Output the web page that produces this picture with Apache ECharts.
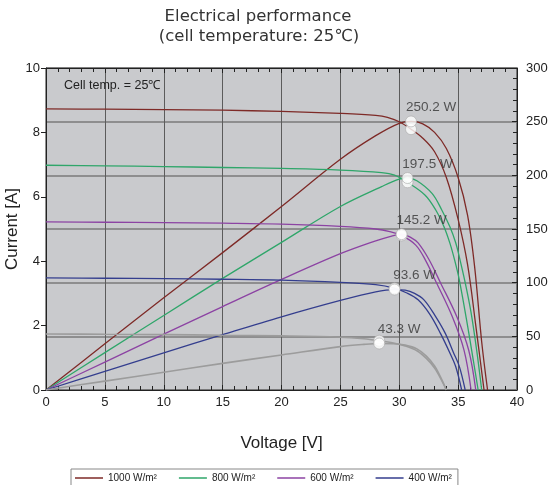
<!DOCTYPE html>
<html><head><meta charset="utf-8">
<script src="https://cdn.jsdelivr.net/npm/echarts@6/dist/echarts.min.js"></script>
<style>html,body{margin:0;padding:0;background:#fff}#c{width:553px;height:485px}</style>
</head><body><div id="c"></div><script>
const seriesNames = ['1000 W/m²', '800 W/m²', '600 W/m²', '400 W/m²', '200 W/m²'];
const legendNames = ['1000 W/m²', '800 W/m²', '600 W/m²', '400 W/m²'];
const colors = ['#7e2a27', '#2fa66a', '#8c43a3', '#343e8e', '#9c9c9c'];

// I-V curves [V, A]
const current1000 = [[0,8.73],[5,8.72],[10,8.71],[15,8.69],[20,8.65],[25,8.59],[28,8.53],[29,8.47],[30,8.33],[31,8.1],[32,7.82],[33,7.4],[34,6.6],[35,5.3],[35.8,3.9],[36.5,2.0],[37.2,0]];
const current800 = [[0,6.98],[5,6.96],[10,6.94],[15,6.91],[20,6.88],[25,6.83],[28.5,6.75],[29.6,6.67],[30.7,6.45],[32.2,6.05],[33.1,5.59],[33.8,5.07],[34.3,4.56],[34.7,4.04],[35.1,3.42],[35.8,2.0],[36.3,0.9],[36.7,0]];
const current600 = [[0,5.22],[5,5.21],[10,5.2],[15,5.18],[20,5.15],[25,5.08],[28,5.0],[29.2,4.92],[30.2,4.8],[31.4,4.5],[32.2,4.05],[33.2,3.3],[34.5,2.28],[35.5,1.24],[36.1,0]];
const current400 = [[0,3.48],[5,3.47],[10,3.46],[15,3.44],[20,3.41],[25,3.34],[28,3.27],[29.6,3.16],[30.6,3.02],[31.6,2.8],[32.6,2.35],[33.5,1.76],[34.3,1.15],[34.8,0.72],[35.3,0]];
const current200 = [[0,1.74],[5,1.73],[10,1.72],[15,1.7],[20,1.68],[25,1.64],[27,1.59],[28.3,1.53],[29.5,1.46],[30.5,1.37],[31.5,1.22],[32.3,0.98],[33,0.68],[33.6,0.3],[34,0]];

// P-V curves [V, W]
const power1000 = [[0,0],[5,43],[10,86],[15,128],[20,171],[25,215],[28,237],[30,248.5],[31,250.2],[32,248],[33,240],[34,225],[35,198],[35.8,163],[36.4,115],[37,45],[37.5,0]];
const power800 = [[0,0],[5,34.8],[10,69.4],[15,104],[20,137.5],[25,171],[28.5,189.5],[30,196.5],[30.7,197.5],[31.5,195],[32.8,183],[33.6,168],[34.3,152],[34.8,137],[35.1,124],[35.6,100],[36.1,72],[36.6,35],[37,0]];
const power600 = [[0,0],[5,26],[10,52],[15,77.7],[20,103],[25,127],[28,139],[29.2,143],[30.2,145.2],[31,142],[31.6,137],[32.5,122],[33.5,100],[34.9,68],[35.9,37],[36.5,0]];
const power400 = [[0,0],[5,17.4],[10,34.6],[15,51.6],[20,68.2],[25,83.5],[28,91.5],[29.6,93.6],[30.5,93],[31.3,90],[32.1,84],[33,70],[33.9,53],[34.6,35],[35.1,22],[35.6,0]];
const power200 = [[0,0],[5,8.3],[10,16.5],[15,24.8],[20,32.6],[25,40.4],[27,42.5],[28.3,43.3],[29.5,43.1],[30.5,41.8],[31.5,38.3],[32.3,31.6],[33,22.4],[33.6,10],[34,0]];

// Maximum power points
const mppVoltage = [31.0, 30.7, 30.2, 29.6, 28.3];
const mppPower = [250.2, 197.5, 145.2, 93.6, 43.3];
const mppCurrent = [8.1, 6.45, 4.8, 3.16, 1.53];
const mppLabels = ['250.2 W', '197.5 W', '145.2 W', '93.6 W', '43.3 W'];

const currents = [current1000, current800, current600, current400, current200];
const powers = [power1000, power800, power600, power400, power200];

const FONT = '"Liberation Sans", Arial, sans-serif';
const chart = echarts.init(document.getElementById('c'), null, {renderer: 'canvas'});

const series = [];
for (let k = 0; k < seriesNames.length; k++) {
  const common = {
    type: 'line', name: seriesNames[k], symbol: 'none', smooth: 0.35,
    lineStyle: {color: colors[k], width: k === 4 ? 1.6 : 1.3}, itemStyle: {color: colors[k]}, z: 3
  };
  series.push(Object.assign({}, common, {xAxisIndex: 0, yAxisIndex: 0, data: currents[k]}));
  series.push(Object.assign({}, common, {xAxisIndex: 0, yAxisIndex: 1, data: powers[k]}));
}
series.push({
  type: 'scatter', name: 'mppI', xAxisIndex: 0, yAxisIndex: 0, symbolSize: 11, z: 5,
  itemStyle: {color: '#fff', borderColor: '#aaa', borderWidth: 0.8},
  data: mppVoltage.map((v, i) => [v, mppCurrent[i]])
});
series.push({
  type: 'scatter', name: 'mppP', xAxisIndex: 0, yAxisIndex: 1, symbolSize: 11, z: 6,
  itemStyle: {color: '#fff', borderColor: '#aaa', borderWidth: 0.8},
  label: {show: true, position: 'top', distance: 1, offset: [20, 0], fontSize: 13.5, color: '#333', fontFamily: FONT,
    formatter: p => mppLabels[p.dataIndex]},
  data: mppVoltage.map((v, i) => [v, mppPower[i]])
});

const axisLineStyle = {color: '#222', width: 1};
chart.setOption({
  animation: false,
  backgroundColor: '#fff',
  textStyle: {fontFamily: FONT},
  grid: {left: 46, right: 36, top: 68, bottom: 95, containLabel: false, outerBoundsMode: 'none',
    show: true, backgroundColor: '#c9cacd', borderColor: '#222', borderWidth: 1},
  graphic: [
    {type: 'text', x: 258, y: 17, style: {text: 'Electrical performance', font: '16.5px "DejaVu Sans"', fill: '#333', textAlign: 'center', textVerticalAlign: 'middle'}},
    {type: 'text', x: 259, y: 37, style: {text: '(cell temperature: 25℃)', font: '16.5px "DejaVu Sans", "Noto Sans CJK JP"', fill: '#333', textAlign: 'center', textVerticalAlign: 'middle'}},
    {type: 'text', x: 64, y: 86, z: 10, style: {text: 'Cell temp. = 25℃', font: '12.5px ' + FONT, fill: '#222', textVerticalAlign: 'middle'}}
  ],
  legend: {
    data: legendNames, left: 71, top: 469, icon: 'rect', itemWidth: 28, itemHeight: 1.5, itemGap: 22,
    borderColor: '#888', borderWidth: 1, padding: [4, 6, 20, 4],
    textStyle: {fontSize: 10, color: '#222', fontFamily: FONT}
  },
  xAxis: [
    {type: 'value', min: 0, max: 40, interval: 5, position: 'bottom',
      axisLine: {show: true, onZero: false, lineStyle: axisLineStyle},
      axisTick: {show: true, inside: true, length: 5, lineStyle: axisLineStyle},
      minorTick: {show: true, splitNumber: 5, length: 4, lineStyle: axisLineStyle},
      axisLabel: {fontSize: 13, color: '#222', margin: 6, fontFamily: FONT},
      splitLine: {show: true, lineStyle: {color: '#5c5c5c', width: 1}},
      name: 'Voltage [V]', nameLocation: 'middle', nameGap: 45,
      nameTextStyle: {fontSize: 17, color: '#222', fontFamily: FONT}},
    {type: 'value', min: 0, max: 40, interval: 5, position: 'top',
      axisLine: {show: true, onZero: false, lineStyle: axisLineStyle},
      axisTick: {show: true, inside: true, length: 5, lineStyle: axisLineStyle},
      minorTick: {show: true, splitNumber: 5, length: 4, lineStyle: axisLineStyle},
      axisLabel: {show: false}, splitLine: {show: false}}
  ],
  yAxis: [
    {type: 'value', min: 0, max: 10, interval: 2, position: 'left',
      axisLine: {show: true, onZero: false, lineStyle: axisLineStyle},
      axisTick: {show: true, inside: false, length: 5, lineStyle: axisLineStyle},
      axisLabel: {fontSize: 13, color: '#222', margin: 6, fontFamily: FONT},
      splitLine: {show: false},
      name: 'Current [A]', nameLocation: 'middle', nameGap: 25, nameMoveOverlap: false,
      nameTextStyle: {fontSize: 17, color: '#222', fontFamily: FONT}},
    {type: 'value', min: 0, max: 300, interval: 50, position: 'right',
      axisLine: {show: true, onZero: false, lineStyle: axisLineStyle},
      axisTick: {show: true, inside: true, length: 5, lineStyle: axisLineStyle},
      minorTick: {show: true, splitNumber: 5, length: 4, lineStyle: axisLineStyle},
      axisLabel: {fontSize: 13, color: '#222', margin: 9, fontFamily: FONT},
      splitLine: {show: true, lineStyle: {color: '#7a7a7a', width: 1.5}}}
  ],
  series: series
});
</script></body></html>
